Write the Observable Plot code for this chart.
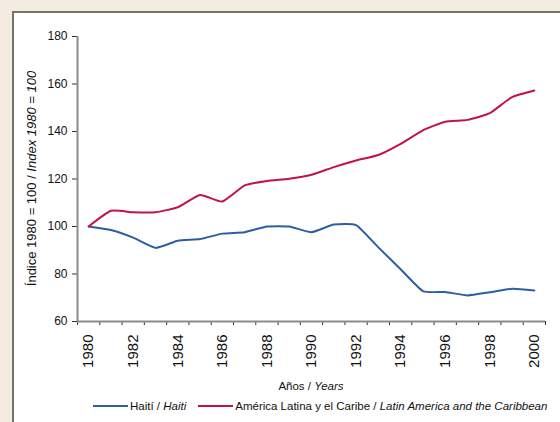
<!DOCTYPE html>
<html>
<head>
<meta charset="utf-8">
<script src="https://cdn.jsdelivr.net/npm/d3@7"></script>
<script src="https://cdn.jsdelivr.net/npm/@observablehq/plot@0.6"></script>
<style>
  html, body { margin: 0; padding: 0; width: 560px; height: 422px; overflow: hidden; background: #f4ebe1; font-family: "Liberation Sans", Arial, sans-serif; }
  #frame { position: absolute; left: 12px; top: 11px; width: 620px; height: 500px; background: #fff; border-top: 2px solid #76736d; border-left: 2px solid #76736d; }
  #chart { position: absolute; left: 0; top: 0; }
  #legend { position: absolute; left: 93px; top: 400px; font-size: 11.5px; color: #111; white-space: nowrap; display: flex; align-items: center; }
  #legend .sw { display: inline-block; width: 35px; height: 2px; margin-right: 2px; }
  #legend .item { display: flex; align-items: center; }
</style>
</head>
<body>
<div id="frame"></div>
<div id="chart"></div>
<div id="legend">
  <span class="item"><span class="sw" style="background:#2c5ea8"></span>Haití / <i>&nbsp;Haiti</i></span>
  <span class="item" style="margin-left:12px"><span class="sw" style="background:#c2124b"></span>América Latina y el Caribe / <i>&nbsp;Latin America and the Caribbean</i></span>
</div>
<script>
const years = [1980,1981,1982,1983,1984,1985,1986,1987,1988,1989,1990,1991,1992,1993,1994,1995,1996,1997,1998,1999,2000];
const haiti = [100,98.5,95.3,91,94,94.7,97,97.6,100,100,97.6,100.8,100.6,91.2,82,72.8,72.4,71,72.3,73.8,73.1];
const lac = [100,106.6,106,106,108.1,113.3,110.5,117.3,119.2,120.1,121.8,125,127.8,130.1,134.8,140.5,144.1,144.9,147.7,154.5,157.3];
const yTicks = [60,80,100,120,140,160,180];
const xLabels = [1980,1982,1984,1986,1988,1990,1992,1994,1996,1998,2000];

const blue = "#2c5ea8", red = "#c2124b";
const rows = [
  ...years.map((y, i) => ({year: y, value: haiti[i], s: "Haiti"})),
  ...years.map((y, i) => ({year: y, value: lac[i], s: "LAC"}))
];
const boundaries = years.map(y => y - 0.5).concat([years[years.length - 1] + 0.5]);

const chart = Plot.plot({
  width: 560, height: 395,
  marginLeft: 77, marginRight: 15, marginTop: 36, marginBottom: 74,
  style: {background: "transparent", fontFamily: "'Liberation Sans', Arial, sans-serif", color: "#111"},
  x: {domain: [boundaries[0], boundaries[boundaries.length - 1]], axis: null},
  y: {domain: [60, 180], axis: null},
  marks: [
    Plot.axisY(yTicks, {tickSize: 5, tickPadding: 5, fontSize: 12, label: null, stroke: "#333"}),
    Plot.axisX(boundaries, {tickSize: 4, tickFormat: () => "", label: null, stroke: "#333"}),
    Plot.ruleY([60], {stroke: "#8c8c8c", strokeWidth: 2}),
    Plot.ruleX([boundaries[0]], {y1: 60, y2: 180, stroke: "#8c8c8c", strokeWidth: 2}),
    Plot.text(xLabels, {x: d => d, y: 60, dy: 13, rotate: -90, textAnchor: "end", lineAnchor: "middle", fontSize: 15, text: d => String(d), fill: "#111"}),
    Plot.line(rows.filter(d => d.s === "Haiti"), {x: "year", y: "value", stroke: blue, strokeWidth: 2, curve: "cardinal", tension: 0.5}),
    Plot.line(rows.filter(d => d.s === "LAC"), {x: "year", y: "value", stroke: red, strokeWidth: 2, curve: "cardinal", tension: 0.5})
  ]
});
document.getElementById("chart").appendChild(chart);

const svg = d3.select(chart);
const yt = svg.append("text")
  .attr("transform", "translate(31,178.5) rotate(-90)")
  .attr("text-anchor", "middle").attr("dy", "0.35em")
  .attr("font-size", 13).attr("fill", "#111");
yt.append("tspan").text("Índice 1980 = 100 / ");
yt.append("tspan").attr("font-style", "italic").text("Index 1980 = 100");

const xt = svg.append("text")
  .attr("x", 311).attr("y", 386)
  .attr("text-anchor", "middle").attr("dy", "0.35em")
  .attr("font-size", 11.5).attr("fill", "#111");
xt.append("tspan").text("Años / ");
xt.append("tspan").attr("font-style", "italic").text("Years");
</script>
</body>
</html>
